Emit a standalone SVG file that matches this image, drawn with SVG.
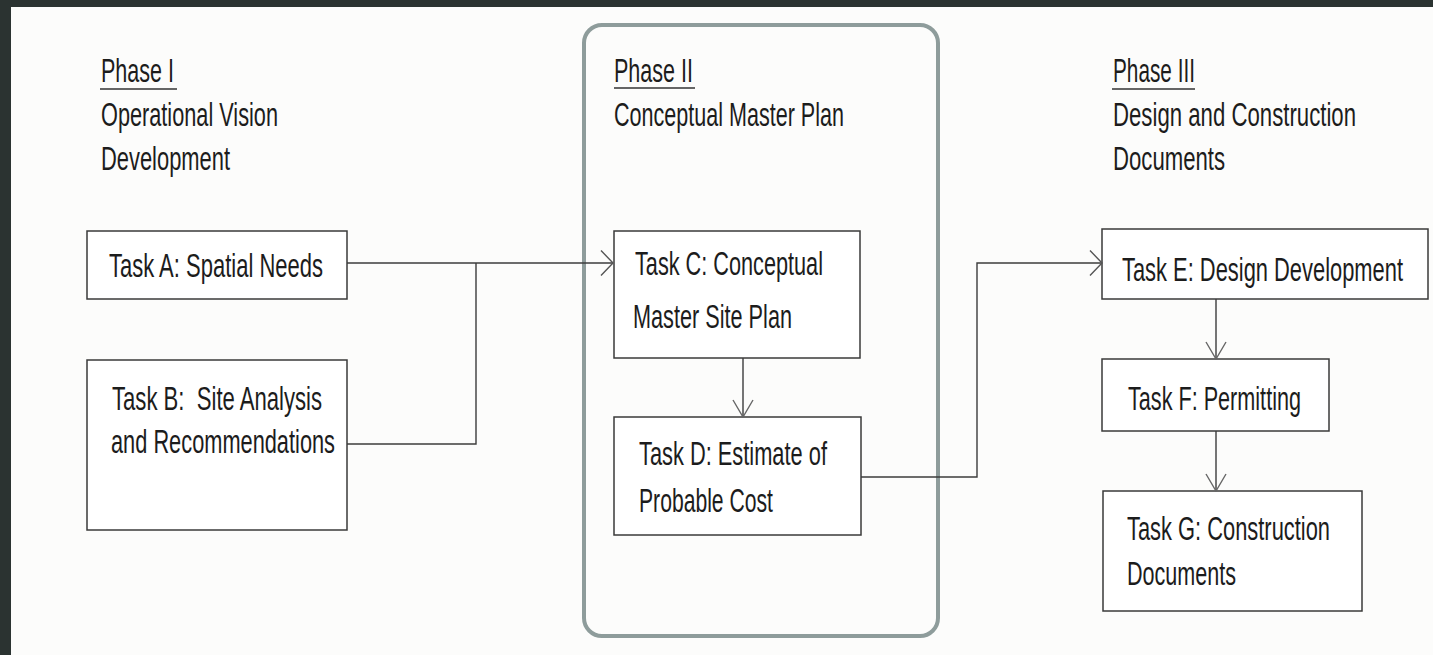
<svg xmlns="http://www.w3.org/2000/svg" width="1433" height="655" viewBox="0 0 1433 655">
<style>
  .t { font-family: "Liberation Sans", Arial, sans-serif; font-size: 33px; fill: #1c1c1c; white-space: pre; }
  .box { fill: #ffffff; stroke: #3a3a3a; stroke-width: 1.5; }
  .ul { stroke: #333333; stroke-width: 1.5; }
  .con { fill: none; stroke: #3c3c3c; stroke-width: 1.4; }
  .phase { fill: none; stroke: #8e9c9b; stroke-width: 4; }
</style>
<defs>
  <marker id="ah" viewBox="0 0 14 27" markerWidth="14" markerHeight="27" refX="13" refY="13.5" orient="auto" markerUnits="userSpaceOnUse">
    <path d="M1,1 L13,13.5 L1,26" fill="none" stroke="#555555" stroke-width="1.4"/>
  </marker>
  <marker id="av" viewBox="0 0 19 22" markerWidth="19" markerHeight="22" refX="18" refY="11" orient="auto" markerUnits="userSpaceOnUse">
    <path d="M1,1 L18,11 L1,21" fill="none" stroke="#666666" stroke-width="1.4"/>
  </marker>
</defs>
<rect x="0" y="0" width="1433" height="655" fill="#2b3331"/>
<rect x="11" y="7" width="1422" height="648" fill="#fcfcfb"/>

<g id="phase1">
  <text class="t" transform="translate(101,82) scale(0.66,1)" textLength="110.6" lengthAdjust="spacingAndGlyphs">Phase I</text>
  <line class="ul" x1="100" y1="89" x2="177" y2="89"/>
  <text class="t" transform="translate(101,126) scale(0.66,1)" textLength="268.2" lengthAdjust="spacingAndGlyphs">Operational Vision</text>
  <text class="t" transform="translate(101,170) scale(0.66,1)" textLength="195.5" lengthAdjust="spacingAndGlyphs">Development</text>
</g>

<g id="phase2">
  <rect class="phase" x="584" y="25" width="354" height="611" rx="18" ry="18"/>
  <text class="t" transform="translate(614,82) scale(0.66,1)" textLength="119.7" lengthAdjust="spacingAndGlyphs">Phase II</text>
  <line class="ul" x1="614" y1="88" x2="695" y2="88"/>
  <text class="t" transform="translate(614,126) scale(0.66,1)" textLength="348.5" lengthAdjust="spacingAndGlyphs">Conceptual Master Plan</text>
</g>

<g id="phase3">
  <text class="t" transform="translate(1113,82) scale(0.66,1)" textLength="124.2" lengthAdjust="spacingAndGlyphs">Phase III</text>
  <line class="ul" x1="1112" y1="89" x2="1195" y2="89"/>
  <text class="t" transform="translate(1113,126) scale(0.66,1)" textLength="368.2" lengthAdjust="spacingAndGlyphs">Design and Construction</text>
  <text class="t" transform="translate(1113,170) scale(0.66,1)" textLength="169.7" lengthAdjust="spacingAndGlyphs">Documents</text>
</g>

<g id="taskA">
  <rect class="box" x="87" y="231" width="260" height="68"/>
  <text class="t" transform="translate(109,277) scale(0.66,1)" textLength="324.2" lengthAdjust="spacingAndGlyphs">Task A: Spatial Needs</text>
</g>

<g id="taskB">
  <rect class="box" x="87" y="360" width="260" height="170"/>
  <text class="t" transform="translate(112,410) scale(0.66,1)" textLength="318.2" lengthAdjust="spacingAndGlyphs">Task B:  Site Analysis</text>
  <text class="t" transform="translate(111,453) scale(0.66,1)" textLength="339.4" lengthAdjust="spacingAndGlyphs">and Recommendations</text>
</g>

<g id="taskC">
  <rect class="box" x="614" y="231" width="246" height="127"/>
  <text class="t" transform="translate(635,275) scale(0.66,1)" textLength="284.8" lengthAdjust="spacingAndGlyphs">Task C: Conceptual</text>
  <text class="t" transform="translate(633,328) scale(0.66,1)" textLength="240.9" lengthAdjust="spacingAndGlyphs">Master Site Plan</text>
</g>

<g id="taskD">
  <rect class="box" x="614" y="417" width="247" height="118"/>
  <text class="t" transform="translate(639,465) scale(0.66,1)" textLength="284.8" lengthAdjust="spacingAndGlyphs">Task D: Estimate of</text>
  <text class="t" transform="translate(639,512) scale(0.66,1)" textLength="203" lengthAdjust="spacingAndGlyphs">Probable Cost</text>
</g>

<g id="taskE">
  <rect class="box" x="1102" y="229" width="326" height="70"/>
  <text class="t" transform="translate(1122,281) scale(0.66,1)" textLength="425.8" lengthAdjust="spacingAndGlyphs">Task E: Design Development</text>
</g>

<g id="taskF">
  <rect class="box" x="1102" y="359" width="227" height="72"/>
  <text class="t" transform="translate(1128,410) scale(0.66,1)" textLength="262.1" lengthAdjust="spacingAndGlyphs">Task F: Permitting</text>
</g>

<g id="taskG">
  <rect class="box" x="1103" y="491" width="259" height="120"/>
  <text class="t" transform="translate(1127,540) scale(0.66,1)" textLength="307.6" lengthAdjust="spacingAndGlyphs">Task G: Construction</text>
  <text class="t" transform="translate(1127,585) scale(0.66,1)" textLength="165.2" lengthAdjust="spacingAndGlyphs">Documents</text>
</g>

<g id="connectors">
  <path class="con" d="M347,263 H613" marker-end="url(#ah)"/>
  <path class="con" d="M476,263 V444 H347"/>
  <path class="con" d="M743,358 V417" marker-end="url(#av)"/>
  <path class="con" d="M861,477 H977 V263 H1102" marker-end="url(#ah)"/>
  <path class="con" d="M1216,299 V359" marker-end="url(#av)"/>
  <path class="con" d="M1216,431 V491" marker-end="url(#av)"/>
</g>
</svg>
